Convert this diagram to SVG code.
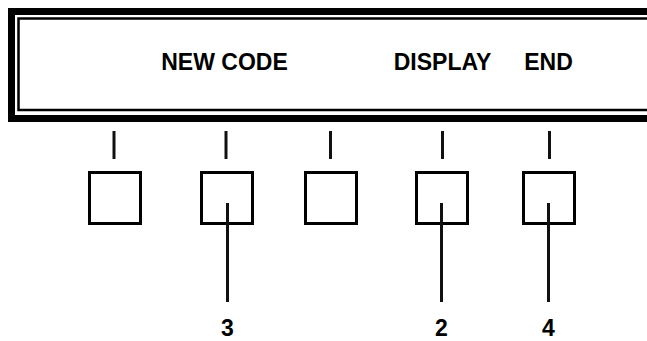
<svg xmlns="http://www.w3.org/2000/svg" width="647" height="341" viewBox="0 0 647 341">
<style>
.lbl{font-family:"Liberation Sans",Arial,sans-serif;font-weight:bold;font-size:23px;fill:#000;text-anchor:middle}
.num{font-family:"Liberation Sans",Arial,sans-serif;font-weight:bold;font-size:23px;fill:#000;text-anchor:middle}
.key{fill:#fff;stroke:#000;stroke-width:3}
.ln{stroke:#111;stroke-width:3;fill:none}
</style>
<rect width="647" height="341" fill="#fff"/>
<g id="display">
<rect x="11.5" y="11.5" width="660" height="107" fill="none" stroke="#000" stroke-width="7"/>
<rect x="18.5" y="18.5" width="650" height="91.5" fill="none" stroke="#000" stroke-width="2.5"/>
<text class="lbl" x="224.5" y="69.5">NEW CODE</text>
<text class="lbl" x="442.5" y="69.5">DISPLAY</text>
<text class="lbl" x="548.5" y="69.5">END</text>
</g>
<g id="key1"><line class="ln" x1="114" y1="131" x2="114" y2="159"/><rect class="key" x="89.5" y="172.5" width="51" height="51"/></g>
<g id="key2"><line class="ln" x1="226" y1="131" x2="226" y2="159"/><rect class="key" x="201.5" y="172.5" width="51" height="51"/></g>
<g id="key3"><line class="ln" x1="330.5" y1="131" x2="330.5" y2="159"/><rect class="key" x="305.5" y="172.5" width="51" height="51"/></g>
<g id="key4"><line class="ln" x1="442.5" y1="131" x2="442.5" y2="159"/><rect class="key" x="416.5" y="172.5" width="51" height="51"/></g>
<g id="key5"><line class="ln" x1="549.5" y1="131" x2="549.5" y2="159"/><rect class="key" x="523.5" y="172.5" width="51" height="51"/></g>
<g id="connectors">
<line class="ln" x1="227.5" y1="203" x2="227.5" y2="302"/>
<line class="ln" x1="441.5" y1="203" x2="441.5" y2="302"/>
<line class="ln" x1="548.5" y1="203" x2="548.5" y2="302"/>
</g>
<g id="labels">
<text class="num" x="227.5" y="336">3</text>
<text class="num" x="441.5" y="336">2</text>
<text class="num" x="548.5" y="336">4</text>
</g>
</svg>
